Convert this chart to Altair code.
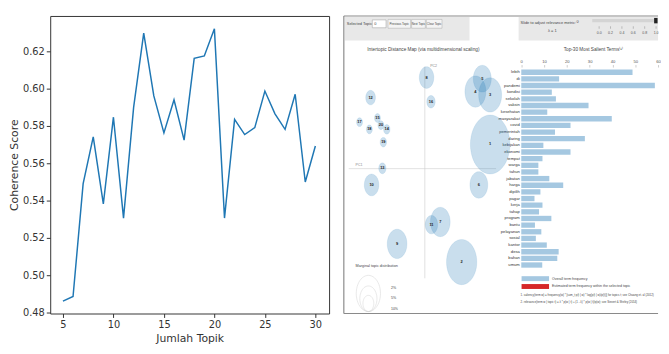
import math
import altair as alt
import pandas as pd

# ---------------- data ----------------
n_topics = list(range(5, 31))
coherence = [0.4861, 0.4886, 0.5490, 0.5741, 0.5382, 0.5846, 0.5306, 0.5899, 0.6296,
             0.5960, 0.5762, 0.5939, 0.5723, 0.6161, 0.6174, 0.6319, 0.5306, 0.5834,
             0.5753, 0.5790, 0.5986, 0.5864, 0.5781, 0.5969, 0.5499, 0.5692]
x_ticks = [5, 10, 15, 20, 25, 30]
y_ticks = [0.48, 0.50, 0.52, 0.54, 0.56, 0.58, 0.60, 0.62]

topic_ids = [str(i) for i in range(1, 21)]
pc1 = [0.266, 0.150, 0.266, 0.206, 0.234, 0.220, 0.063, 0.007, -0.113, -0.217,
       0.027, -0.221, -0.173, -0.155, -0.193, 0.025, -0.266, -0.226, -0.169, -0.179]
pc2 = [0.064, -0.247, 0.195, 0.204, 0.238, -0.043, -0.141, 0.241, -0.199, -0.043,
       -0.148, 0.188, 0.001, 0.104, 0.134, 0.177, 0.123, 0.104, 0.070, 0.115]
marginal = [26.5, 15.6, 9.0, 7.5, 5.5, 5.4, 6.6, 3.6, 6.6, 3.6,
            2.6, 1.6, 0.9, 0.7, 0.6, 1.2, 0.6, 0.6, 0.7, 0.6]
legend_pct = [2, 5, 10]

terms = ["lebih", "di", "pandemi", "kondisi", "sekolah", "vaksin", "kesehatan",
         "masyarakat", "covid", "pemerintah", "daring", "kebijakan", "ekonomi",
         "tempat", "warga", "tahun", "jabatan", "harga", "dipilih", "pagar", "kerja",
         "tahap", "program", "bantu", "pelayanan", "sosial", "kantor", "desa",
         "bahan", "umum"]
term_freq = [48.8, 16.6, 58.6, 13.4, 15.2, 29.5, 11.4, 39.7, 21.6, 14.8, 27.9, 9.7,
             21.6, 9.3, 7.5, 7.5, 12.3, 18.4, 8.4, 5.8, 9.3, 7.8, 13.2, 6.0, 8.8,
             6.4, 11.2, 16.4, 15.8, 9.2]
bar_ticks = [0, 10, 20, 30, 40, 50, 60]
slider_ticks = [0.0, 0.2, 0.4, 0.6, 0.8, 1.0]

# ---------------- left: coherence line ----------------
AX = dict(grid=False, domain=False, tickColor="#333", tickSize=4, labelFontSize=10,
          labelColor="#333", titleFontSize=11, titleFontWeight="normal",
          titleColor="#333", labelPadding=2, labelFont="DejaVu Sans",
          titleFont="DejaVu Sans")

line_df = pd.DataFrame({"k": n_topics, "score": coherence})
left = alt.Chart(line_df).mark_line(color="#1f77b4", strokeWidth=1.5).encode(
    x=alt.X("k:Q", scale=alt.Scale(domain=[3.74, 31.36], nice=False, zero=False),
            axis=alt.Axis(values=x_ticks, title="Jumlah Topik", titlePadding=4,
                          labelFlush=False, **AX)),
    y=alt.Y("score:Q", scale=alt.Scale(domain=[0.4795, 0.6388], nice=False, zero=False),
            axis=alt.Axis(values=y_ticks, format=".2f", title="Coherence Score",
                          titlePadding=3, **AX)),
).properties(width=284, height=303,
             view=alt.ViewBackground(stroke="#333", strokeWidth=1))

# ---------------- right: LDAvis-like panel ----------------
RF = "Liberation Sans"
ONE = alt.Data(values=[{"a": 1}])


def txt(s, x, y, size=4.5, align="left", color="#444", weight="normal"):
    return alt.Chart(ONE).mark_text(text=s, align=align, baseline="middle",
                                    fontSize=size, color=color, fontWeight=weight,
                                    font=RF).encode(x=alt.value(x), y=alt.value(y))


def box(x, x2, y, y2, fill, stroke="#000", sw=0):
    return alt.Chart(ONE).mark_rect(fill=fill, stroke=stroke, strokeWidth=sw).encode(
        x=alt.value(x), x2=alt.value(x2), y=alt.value(y), y2=alt.value(y2))


def hrule(x, x2, y, color="#888", sw=1):
    return alt.Chart(ONE).mark_rule(color=color, strokeWidth=sw).encode(
        x=alt.value(x), x2=alt.value(x2), y=alt.value(y))


def vrule(x, y, y2, color="#888", sw=1):
    return alt.Chart(ONE).mark_rule(color=color, strokeWidth=sw).encode(
        x=alt.value(x), y=alt.value(y), y2=alt.value(y2))


# ellipse symbol (screenshot is squeezed horizontally)
pts = []
for i in range(48):
    t = 2 * math.pi * i / 48
    pts.append(f"{0.67 * math.cos(t):.4f},{math.sin(t):.4f}")
ELLIPSE = "M" + " L".join(pts) + " Z"

xs_map = alt.Scale(domain=[-0.31, 0.31], range=[5, 160], nice=False, zero=False)
ys_map = alt.Scale(domain=[-0.3, 0.3], range=[271, 40], nice=False, zero=False)
size_sc = alt.Scale(domain=[0, 26.5], range=[0, 3600], zero=True)

topic_df = pd.DataFrame({"topic": topic_ids, "pc1": pc1, "pc2": pc2, "pct": marginal})

circles = alt.Chart(topic_df).mark_point(
    shape=ELLIPSE, filled=True, color="#1f77b4", fillOpacity=0.24,
    stroke="#1f77b4", strokeOpacity=0.25, strokeWidth=0.4).encode(
    x=alt.X("pc1:Q", scale=xs_map, axis=None),
    y=alt.Y("pc2:Q", scale=ys_map, axis=None),
    size=alt.Size("pct:Q", scale=size_sc, legend=None))

circle_labels = alt.Chart(topic_df).mark_text(
    fontSize=4, fontWeight="bold", color="#222", font=RF).encode(
    x=alt.X("pc1:Q", scale=xs_map, axis=None),
    y=alt.Y("pc2:Q", scale=ys_map, axis=None),
    text="topic:N")

map_vline = alt.Chart(ONE).mark_rule(color="#ccc", strokeWidth=0.6).encode(
    x=alt.XDatum(0, scale=xs_map, axis=None),
    y=alt.YDatum(-0.29, scale=ys_map, axis=None),
    y2=alt.Y2Datum(0.27))
map_hline = alt.Chart(ONE).mark_rule(color="#ccc", strokeWidth=0.6).encode(
    y=alt.YDatum(0, scale=ys_map, axis=None),
    x=alt.XDatum(-0.31, scale=xs_map, axis=None),
    x2=alt.X2Datum(0.29))

leg_df = pd.DataFrame({"pct": legend_pct})
leg_circles = alt.Chart(leg_df).transform_calculate(
    sz="3600 * datum.pct / 26.5", yc="301 - sqrt(3600 * datum.pct / 26.5) / 2"
).mark_point(shape=ELLIPSE, filled=False, color="#ccc", strokeWidth=0.6).encode(
    x=alt.value(25),
    y=alt.Y("yc:Q", scale=None, axis=None),
    size=alt.Size("sz:Q", scale=None, legend=None))

# bars
bar_df = pd.DataFrame({"term": terms, "freq": term_freq})
xs_bar = alt.Scale(domain=[0, 60], range=[180.7, 320], nice=False, zero=True)
ys_bar = alt.Scale(domain=terms, range=[53.9, 257], paddingInner=0.2, paddingOuter=0.1)
bars = alt.Chart(bar_df).mark_bar(color="#a5c8e1").encode(
    x=alt.X("freq:Q", scale=xs_bar,
            axis=alt.Axis(orient="top", offset=-52, values=bar_ticks, grid=False,
                          domain=False, tickSize=2.5, tickColor="#999",
                          tickWidth=0.5, labelFontSize=4.2, labelColor="#555",
                          labelPadding=1, labelFont=RF, labelFlush=False,
                          title=None)),
    y=alt.Y("term:N", scale=ys_bar, sort=terms,
            axis=alt.Axis(orient="left", offset=-180.7, ticks=False, domain=False,
                          labelFontSize=4.2, labelColor="#333", labelPadding=2,
                          labelFont=RF, title=None, labelOverlap=False)))

# slider ticks
sl_df = pd.DataFrame({"v": slider_ticks})
xs_sl = alt.Scale(domain=[0, 1], range=[260, 318], nice=False, zero=False)
sl_labels = alt.Chart(sl_df).mark_text(fontSize=3.6, color="#555", font=RF).encode(
    x=alt.X("v:Q", scale=xs_sl, axis=None), y=alt.value(17), text=alt.Text("v:Q", format=".1f"))
sl_marks = alt.Chart(sl_df).mark_rule(color="#888", strokeWidth=0.5).encode(
    x=alt.X("v:Q", scale=xs_sl, axis=None), y=alt.value(10.5), y2=alt.value(13))

layers = [
    # header
    box(1, 128, 1, 25, "#e8e8e8"),
    box(178, 320, 1, 25, "#e8e8e8"),
    txt("Selected Topic:", 3, 8, size=4),
    box(29, 43, 4, 12, "#ffffff", "#999", 0.5),
    txt("0", 31, 8, size=4),
    box(45, 68, 3.5, 12.5, "#f4f4f4", "#aaa", 0.5),
    txt("Previous Topic", 56.5, 8, size=3.1, align="center"),
    box(69, 83, 3.5, 12.5, "#f4f4f4", "#aaa", 0.5),
    txt("Next Topic", 76, 8, size=3.0, align="center"),
    box(84, 100, 3.5, 12.5, "#f4f4f4", "#aaa", 0.5),
    txt("Clear Topic", 92, 8, size=3.0, align="center"),
    txt("Slide to adjust relevance metric:⁽²⁾", 180, 7.5, size=4),
    txt("λ = 1", 208, 15.5, size=4),
    box(253, 319, 3, 6.5, "#d4d4d4"),
    box(316, 319.5, 2, 7.5, "#222"),
    sl_marks, sl_labels,
    # titles
    txt("Intertopic Distance Map (via multidimensional scaling)", 81, 35, size=4.8,
        align="center"),
    txt("Top-30 Most Salient Terms⁽¹⁾", 254, 35, size=4.8, align="center"),
    # map
    map_vline, map_hline,
    txt("PC2", 88, 51, size=3.6, color="#888"),
    txt("PC1", 12, 151.5, size=3.6, color="#888"),
    circles, circle_labels,
    txt("Marginal topic distribution", 12, 255, size=3.8),
    leg_circles,
    txt("2%", 48, 277, size=3.6), txt("5%", 48, 287, size=3.6),
    txt("10%", 48, 298, size=3.6),
    # bars
    bars,
    box(181, 209, 265, 270, "#a5c8e1"),
    box(181, 209, 273, 278, "#d62728"),
    txt("Overall term frequency", 212, 267.5, size=3.6),
    txt("Estimated term frequency within the selected topic", 212, 275.5, size=3.6),
    txt("1. saliency(term w) = frequency(w) * [sum_t p(t | w) * log(p(t | w)/p(t))] "
        "for topics t; see Chuang et. al (2012)", 180, 284, size=2.9),
    txt("2. relevance(term w | topic t) = λ * p(w | t) + (1 - λ) * p(w | t)/p(w); "
        "see Sievert & Shirley (2014)", 180, 291, size=2.9),
    # frame
    hrule(0, 320, 0, "#8a8a8a", 1.2),
    hrule(0, 320, 303, "#8a8a8a", 1.2),
    vrule(0, 0, 303, "#8a8a8a", 1.2),
]

right = alt.layer(*layers).resolve_scale(
    x="independent", y="independent", size="independent"
).properties(width=320, height=303)

chart = alt.hconcat(left, right, spacing=13).properties(
    padding={"left": 0, "top": 4, "right": 0, "bottom": 0}
).configure_view(stroke=None)

chart.save("out.html", embed_options={"renderer": "svg", "actions": False})
